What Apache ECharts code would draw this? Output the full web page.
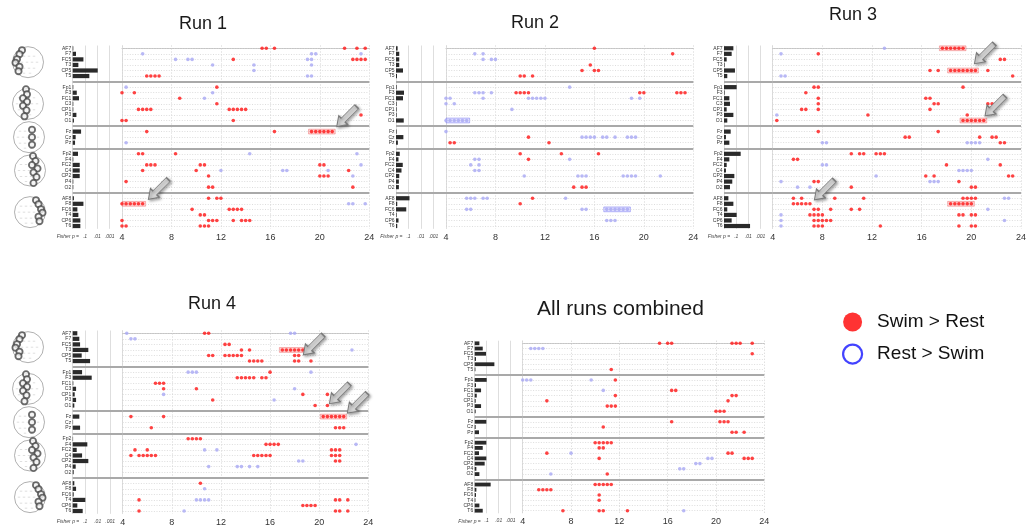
<!DOCTYPE html>
<html><head><meta charset="utf-8">
<script src="https://cdn.jsdelivr.net/npm/echarts@6/dist/echarts.min.js"></script>
<style>html,body{margin:0;padding:0;background:#fff}#c{width:1026px;height:531px}</style>
</head><body><div id="c"></div>
<script>
// ---------- categories ----------
const channels = ['AF7','F7','FC5','T3','CP5','T5','_1','Fp1','F3','FC1','C3','CP1','P3','O1','_2','Fz','Cz','Pz','_3','Fp2','F4','FC2','C4','CP2','P4','O2','_4','AF8','F8','FC6','T4','CP6','T6'];
const xTicks = [4, 8, 12, 16, 20, 24];
const fisherName = 'Fisher p =';
const fisherTickLabels = ['', '.1', '.01', '.001', ''];

// ---------- Fisher bars (29 channels, order as above without separators) ----------
const run1Bars = [0.05,0.27,0.87,0.46,2.03,1.35, 0.05,0.33,0.51,0.05,0.05,0.3,0.1, 0.68,0.24,0.19, 0.43,0.05,0.57,0.57,0.57,0.05,0.05, 0.1,0.87,0.38,0.46,0.62,0.62];
const run2Bars = [0.13,0.26,0.26,0.26,0.56,0.08, 0.05,0.64,0.56,0.05,0.05,0.05,0.62, 0.05,0.59,0.15, 0.3,0.2,0.54,0.44,0.26,0.23,0.23, 1.08,0.1,0.82,0.05,0.2,0.1];
const run3Bars = [0.77,0.63,0.22,0.05,0.9,0.27, 1.04,0.05,0.44,0.49,0.22,0.77,0.27, 0.55,0.16,0.44, 1.37,0.44,0.22,0.16,0.85,0.68,0.49, 0.36,0.77,0.27,1.04,0.63,2.14];
const run4Bars = [0.37,0.53,0.59,1.25,0.72,1.39, 0.75,1.52,0.05,0.27,0.16,0.27,0.13, 0.53,0.03,0.59, 0.03,1.17,0.32,0.75,1.25,0.24,0.08, 0.13,0.27,0.08,1.01,0.37,0.8];
const allBars  = [0.39,0.67,0.94,0.11,1.64,0.06, 1.0,0.11,0.53,0.17,0.08,0.53,0.08, 0.97,0.08,0.36, 0.97,0.67,0.36,0.97,0.83,0.14,0.39, 1.33,0.14,0.11,0.06,0.39,0.67];

// ---------- significant frequencies (Hz) per channel ----------
const run1Red = [['AF7',15.33,15.67,16.33,22,23,23.67],['FC5',13,22.67,23,23.33,23.67],['T5',6,6.33,6.67,7],['Fp1',11.67],['F3',4,5],['FC1',8.67],['C3',11.67],['CP1',5.33,5.67,6,6.33,12.67,13,13.33,13.67,14],['P3',23.33],['O1',4,4.33,13],['Fz',6,16.33,19.33,19.67,20,20.33,20.67,21],['Fp2',5.33,5.67,8.33],['FC2',6,6.33,6.67,10.33,10.67,20,20.33],['C4',5.67,10,22.33],['CP2',11,20,20.33,20.67],['P4',4.33],['O2',11,11.33,22.67],['AF8',11,11.67,12],['F8',4,4.33,4.67,5,5.33,5.67],['FC6',9.67,12.67,13,13.33,13.67],['T4',10.33,10.67],['CP6',4,11,11.33,11.67,13,13.67,14,14.33],['T6',4,4.33,10.33,10.67,11]];
const run1Blue = [['F7',5.67,19.33,19.67,23.33],['FC5',8.33,9.33,9.67,19,19.33],['T3',11.33,14.67,19.33],['CP5',14.67],['T5',19,19.33],['Fp1',4.33],['F3',11.33],['FC1',10.67],['Pz',4.33],['Fp2',14.33,23],['FC2',23.33],['C4',12,17,17.33,20.67],['CP2',22.67],['F8',22.33,22.67,23.67]];

const run2Red = [['AF7',16],['F7',22.33],['T3',15.67],['CP5',15,16,16.33],['T5',10,10.33,11],['F3',9.67,10,10.33,10.67,19.67,20,22.67,23,23.33],['Cz',10.67],['Pz',4.33,4.67,12.33],['Fp2',10,13.33,16.33],['F4',10.67],['O2',14.33,15,15.33],['AF8',11],['F8',10]];
const run2Blue = [['F7',6.33,7],['FC5',7,7.67,8],['Fp1',14],['F3',6.33,6.67,7,7.67],['FC1',4,4.33,7,10.67,11,11.33,11.67,12,19,19.67],['C3',4,4.67],['CP1',9.33],['O1',4,4.33,4.67,5,5.33,5.67],['Fz',4],['Cz',15,15.33,15.67,16,16.67,17,17.67,18.67,19,19.33],['F4',6.33,6.67,14],['FC2',6,6.67],['C4',6.33,6.67],['CP2',10.33,14.67,15,15.33,18.33,18.67,19,19.33,21.33],['AF8',5.67,6,6.33,7,7.33,13.67],['FC6',5.67,6,15,15.33,17,17.33,17.67,18,18.33,18.67],['CP6',17,17.33,17.67]];

const run3Red = [['AF7',17.67,18,18.33,18.67,19,19.33],['F7',7.67],['FC5',22.33,22.67],['CP5',16.67,17.33,18.33,18.67,19,19.33,19.67,20,20.33,21.33],['T5',23.33],['Fp1',7.33,7.67,19.33],['F3',6.67],['FC1',7.67,16.33,16.67],['C3',7.67,17,17.33,21.33,21.67],['CP1',6.33,6.67,7.67,16.67],['P3',11.67,19.67],['O1',4.33,19.33,19.67,20,20.33,20.67,21],['Fz',7.67,17.33],['Cz',14.67,15,20.67,21.67,22],['Pz',22.33,22.67],['Fp2',10.33,11,11.33,12.33,12.67,13],['F4',5.67,6],['FC2',18,22.33],['CP2',16.33,17,23,23.33],['P4',7.33,7.67,19],['O2',10.33,20,20.33],['AF8',5.67,6.33,9,11.33,19.33,19.67,20,20.33],['F8',5.67,6,6.33,6.67,7,18.33,18.67,19,19.33,19.67,20],['FC6',7.33,7.67,8.67,10.33,11],['T4',7,7.33,7.67,8,19,19.33,20,20.33],['CP6',7.33,7.67,8,8.33,8.67],['T6',7.33,7.67,8,12.67,19,20,20.33]];
const run3Blue = [['AF7',13],['F7',4.67],['T5',4.67,5],['P3',4.33],['Pz',8,8.33,19.67,20,20.33,20.67],['F4',21.33],['FC2',8,8.33],['C4',19,19.33,19.67,20],['CP2',12.33],['P4',4.67,16.67,17,17.33],['O2',6,7],['AF8',22.67,23],['FC6',21.33],['T4',4.67],['CP6',4.67,22.67],['T6',4.67]];

const run4Red = [['AF7',10.67,11],['FC5',12.33,12.67],['T3',13.67,14.33,17,17.33,17.67,18,18.33,18.67],['CP5',11,11.33,12.33,12.67,13,13.33,13.67,18,18.33],['T5',14.33,14.67,15,15.33,18,18.33,19.33],['Fp1',16],['F3',13.33,13.67,14,14.33,14.67,15.33,15.67],['FC1',6.67,7,7.33],['C3',7.33,10],['CP1',18.67,20.67],['P3',11.33],['O1',19.67,20.67],['Fz',4.67,7.33,20.33,20.67,21,21.33,21.67,22],['Pz',6.33,21.33,21.67,22],['Fp2',9.33,9.67,10,10.33],['F4',15.67,16,16.33,16.67],['FC2',5,6,21,21.33,21.67],['C4',4.67,5.33,5.67,6,6.33,6.67,14.67,15,15.33,15.67,16,21,21.33,21.67],['CP2',21.33,21.67],['AF8',10.33],['T4',5.33,21.33,21.67,22.33],['CP6',18.67,19,19.33,19.67],['T6',5.33,21.33,21.67,22.33]];
const run4Blue = [['AF7',4.33,17.67,18],['F7',4.67,5],['T3',22.67],['Fp1',9.33,9.67,10,19.33],['C3',18],['CP1',7.33],['P3',16.33],['F4',23],['FC2',10.67,11.67],['CP2',18.33,18.67],['P4',11,13.33,13.67,14.33,15],['F8',10.67],['T4',10,10.33,10.67,11],['T6',9]];

const allRed = [['AF7',15.33,16,16.33,21.33,21.67,22,23],['FC5',23],['T5',11.33],['Fp1',11.67],['FC1',16.33,16.67],['C3',11.67,21.33,21.67],['CP1',6,21],['P3',11,11.33,11.67],['O1',20,20.33,20.67],['Fz',16.33,20.33,20.67,21],['Cz',10.67],['Pz',21.33,21.67,22.33],['Fp2',10,10.33,10.67,11,11.33],['F4',10.33,10.67],['FC2',6,21,21.33],['C4',10.33,22.33,22.67,23],['O2',11],['AF8',10,10.33,10.67,11,11.33],['F8',5.33,5.67,6,6.33],['FC6',10.33],['T4',10.33],['T6',7.33,10.33,10.67,12.67]];
const allBlue = [['F7',4.67,5,5.33,5.67],['Fp1',4,4.33,4.67,9.67],['FC1',10.67],['FC2',8],['C4',19.33,19.67],['CP2',18.33,18.67],['P4',17,17.33],['O2',6.33],['T6',17.33]];

// ---------- highlighted runs [channel, from Hz, to Hz] ----------
const run1RedBoxes = [['Fz',19.33,21],['F8',4,5.67]];
const run2BlueBoxes = [['O1',4,5.67],['FC6',17,18.67]];
const run3RedBoxes = [['AF7',17.67,19.33],['CP5',18.33,20.33],['O1',19.33,21],['F8',18.33,20]];
const run4RedBoxes = [['T3',17,18.67],['Fz',20.33,22]];

// ---------- annotation arrows [Hz, row position] ----------
const run1Arrows = [[22.17,12.3],[6.94,25.4]];
const run3Arrows = [[21.05,1.0],[21.9,10.4],[8.16,25.5]];
const run4Arrows = [[19.52,2.1],[21.64,10.9],[23.1,12.6]];

// ---------- head icons: electrode offsets (px) per channel group ----------
const headGroups = [['AF7','T5'],['Fp1','O1'],['Fz','Pz'],['Fp2','O2'],['AF8','T6']];
const headCenterX = [28, 28, 29, 30, 30];
const electrodeOffsets = [
  [[-6,-12],[-8.5,-8],[-11,-3],[-12.5,0.5],[-8.5,4.5],[-9.5,9]],
  [[-2,-14.5],[-1,-9.5],[-5,-5.5],[-1,-2],[-5,2],[-1.5,6.5],[-3.5,12.5]],
  [[3,-7.5],[3,0],[3,7.5]],
  [[3,-14.5],[5.5,-9.5],[2,-5.5],[7.5,-2],[3.5,2],[6.5,6.5],[3.5,12.5]],
  [[6,-12],[8.5,-8],[11,-3],[12.5,0.5],[8.5,4.5],[9.5,9]]
];
const headMarks = [[-9,-6],[-4,-6],[1,-6],[6,-6],[-11,0],[-6,0],[-1,0],[4,0],[9,0],[-9,6],[-4,6],[1,6],[6,6],[-4,11],[2,11]];

const FONT = '"Liberation Sans", Arial, Helvetica, sans-serif';
const ARROW = 'path://M6,0L12,9L8.6,9L8.6,28L3.4,28L3.4,9L0,9Z';

const panels = [
  {title:'Run 1', tx:179, ty:15, ts:18, barL:72.7, scL:122, scW:247.3, top:45.5, h:183.3, head:true, bars:run1Bars, red:run1Red, blue:run1Blue, redBox:run1RedBoxes, blueBox:[], arrows:run1Arrows},
  {title:'Run 2', tx:511, ty:14, ts:18, barL:396, scL:446, scW:247.3, top:45.5, h:183.3, head:false, bars:run2Bars, red:run2Red, blue:run2Blue, redBox:[], blueBox:run2BlueBoxes, arrows:[]},
  {title:'Run 3', tx:829, ty:6, ts:18, barL:724, scL:772.7, scW:248.3, top:45.5, h:183.3, head:false, bars:run3Bars, red:run3Red, blue:run3Blue, redBox:run3RedBoxes, blueBox:[], arrows:run3Arrows},
  {title:'Run 4', tx:188, ty:295, ts:18, barL:72.7, scL:122.7, scW:245.6, top:330.5, h:183.3, head:true, bars:run4Bars, red:run4Red, blue:run4Blue, redBox:run4RedBoxes, blueBox:[], arrows:run4Arrows},
  {title:'All runs combined', tx:537, ty:299, ts:21, barL:474.7, scL:522.7, scW:241.6, top:340.7, h:172.6, head:false, bars:allBars, red:allRed, blue:allBlue, redBox:[], blueBox:[], arrows:[]}
];

const slotOf = name => channels.indexOf(name);
const expand = rows => rows.flatMap(r => r.slice(1).map(f => [f, slotOf(r[0])]));
const realChannels = channels.filter(c => c[0] !== '_');
const barData = bars => channels.map(c => c[0] === '_' ? '-' : bars[realChannels.indexOf(c)]);
const boxAreas = (boxes, style) => boxes.map(b => [
  {coord:[b[1]-0.24, slotOf(b[0])-0.43], itemStyle:style},
  {coord:[b[2]+0.24, slotOf(b[0])+0.43]}
]);

const grids = [], xAxes = [], yAxes = [], series = [], titles = [];
const sepStyle = {color:'#a9a9a9', width:2, type:'solid'};
const rowStyle = {color:'#d4d4d4', width:0.8, type:[1,1.6]};

panels.forEach(p => {
  titles.push({text:p.title, left:p.tx, top:p.ty, padding:0, textStyle:{fontSize:p.ts, fontWeight:'normal', color:'#1a1a1a', fontFamily:FONT}});
  // bar grid
  const gb = grids.length;
  grids.push({left:p.barL, top:p.top, width:p.scL - p.barL, height:p.h, containLabel:false, outerBoundsMode:'none'});
  xAxes.push({gridIndex:gb, type:'value', min:0, max:4, interval:1,
    name:fisherName, nameLocation:'start', nameGap:2,
    nameTextStyle:{fontSize:5, fontStyle:'italic', color:'#444', fontFamily:FONT, align:'center', verticalAlign:'top', padding:[5.5,0,0,0]},
    axisLine:{show:false}, axisTick:{show:false},
    splitLine:{show:true, lineStyle:{color:'#dedede', width:1}},
    axisLabel:{hideOverlap:false, fontSize:5, fontStyle:'italic', color:'#444', margin:5, fontFamily:FONT, formatter:v => fisherTickLabels[Math.round(Number(v))] || ''}});
  yAxes.push({gridIndex:gb, type:'category', data:channels, inverse:true,
    axisLine:{show:false}, axisTick:{show:false}, splitLine:{show:false},
    axisLabel:{interval:0, fontSize:5, color:'#333', margin:1.5, fontFamily:FONT, formatter:v => v[0] === '_' ? '' : v}});
  series.push({type:'bar', name:'Fisher', xAxisIndex:gb, yAxisIndex:gb, data:barData(p.bars), barWidth:p.h < 180 ? 3.8 : 4.2,
    itemStyle:{color:'#2a2a2a'}, silent:true,
    markLine:{silent:true, symbol:['none','none'], label:{show:false}, z:1, lineStyle:sepStyle,
      data:channels.map((c,i) => c[0] === '_' ? {yAxis:i, lineStyle:sepStyle} : null).filter(Boolean)}});
  // scatter grid
  const gs = grids.length;
  grids.push({left:p.scL, top:p.top, width:p.scW, height:p.h, containLabel:false, outerBoundsMode:'none'});
  xAxes.push({gridIndex:gs, type:'value', min:xTicks[0], max:xTicks[xTicks.length-1], interval:xTicks[1]-xTicks[0],
    axisLine:{show:true, lineStyle:{color:'#c4c4c4', width:1}}, axisTick:{show:false},
    splitLine:{show:true, lineStyle:{color:'#d2d2d2', width:1, type:[1,2]}},
    axisLabel:{showMinLabel:true, showMaxLabel:true, fontSize:9, color:'#333', margin:4, fontFamily:FONT}});
  yAxes.push({gridIndex:gs, type:'value', min:-0.5, max:channels.length - 0.5, inverse:true, show:false});
  series.push({type:'scatter', name:'Swim > Rest', xAxisIndex:gs, yAxisIndex:gs, data:expand(p.red),
    symbolSize:3.6, itemStyle:{color:'#ff1414'}, z:3,
    markLine:{silent:true, symbol:['none','none'], label:{show:false}, z:1,
      data:channels.map((c,i) => ({yAxis:i, lineStyle: c[0] === '_' ? sepStyle : rowStyle}))},
    markArea:{silent:true, z:1, data:boxAreas(p.redBox, {color:'rgba(255,140,140,0.35)', borderColor:'rgba(235,90,90,0.55)', borderWidth:0.8})},
    markPoint:{silent:true, z:6, label:{show:false},
      data:p.arrows.map(a => ({coord:a, symbol:ARROW, symbolSize:[12.5,28], symbolRotate:135,
        itemStyle:{color:'#d6d6d6', borderColor:'#7a7a7a', borderWidth:1, shadowBlur:3, shadowOffsetX:1.5, shadowOffsetY:1.5, shadowColor:'rgba(0,0,0,0.35)'}}))}
  });
  series.push({type:'scatter', name:'Rest > Swim', xAxisIndex:gs, yAxisIndex:gs, data:expand(p.blue),
    symbolSize:3.6, itemStyle:{color:'#a8a8f4'}, z:3,
    markArea:{silent:true, z:1, data:boxAreas(p.blueBox, {color:'rgba(190,190,255,0.45)', borderColor:'rgba(110,110,240,0.6)', borderWidth:0.8})}
  });
  // head icons
  if (p.head) {
    const gh = grids.length;
    const rowPx = p.h / channels.length;
    grids.push({left:0, top:p.top, width:60, height:p.h, containLabel:false, outerBoundsMode:'none'});
    xAxes.push({gridIndex:gh, type:'value', min:0, max:60, show:false});
    yAxes.push({gridIndex:gh, type:'value', min:0, max:p.h, inverse:true, show:false});
    const centers = headGroups.map((g,k) => [headCenterX[k], ((slotOf(g[0]) + slotOf(g[1])) / 2 + 0.5) * rowPx]);
    series.push({type:'scatter', name:'head', xAxisIndex:gh, yAxisIndex:gh, silent:true, data:centers, symbolSize:31,
      itemStyle:{color:'rgba(255,255,255,0)', borderColor:'#9c9c9c', borderWidth:1}, z:2});
    series.push({type:'scatter', name:'marks', xAxisIndex:gh, yAxisIndex:gh, silent:true, symbol:'rect', symbolSize:[2.4,0.8],
      data:centers.flatMap(c => headMarks.map(m => [c[0]+m[0], c[1]+m[1]])), itemStyle:{color:'#cdcdcd'}, z:2});
    series.push({type:'scatter', name:'electrodes', xAxisIndex:gh, yAxisIndex:gh, silent:true, symbolSize:6.2,
      data:centers.flatMap((c,k) => electrodeOffsets[k].map(o => [c[0]+o[0], c[1]+o[1]])),
      itemStyle:{color:'#f2f2f2', borderColor:'#474747', borderWidth:1.8}, z:4});
  }
});

const chart = echarts.init(document.getElementById('c'), null, {renderer:'canvas'});
chart.setOption({
  animation:false,
  backgroundColor:'#ffffff',
  textStyle:{fontFamily:FONT},
  title:titles,
  legend:{orient:'vertical', left:842, top:312.5, padding:0, itemWidth:21, itemHeight:19, itemGap:12, selectedMode:false,
    textStyle:{fontSize:19, color:'#111', fontFamily:FONT, padding:[0,0,0,9]},
    data:[{name:'Swim > Rest', icon:'circle', itemStyle:{color:'#ff0000'}},
          {name:'Rest > Swim', icon:'circle', itemStyle:{color:'#ffffff', borderColor:'#1414ff', borderWidth:2.2}}]},
  grid:grids, xAxis:xAxes, yAxis:yAxes, series:series
});
</script></body></html>
